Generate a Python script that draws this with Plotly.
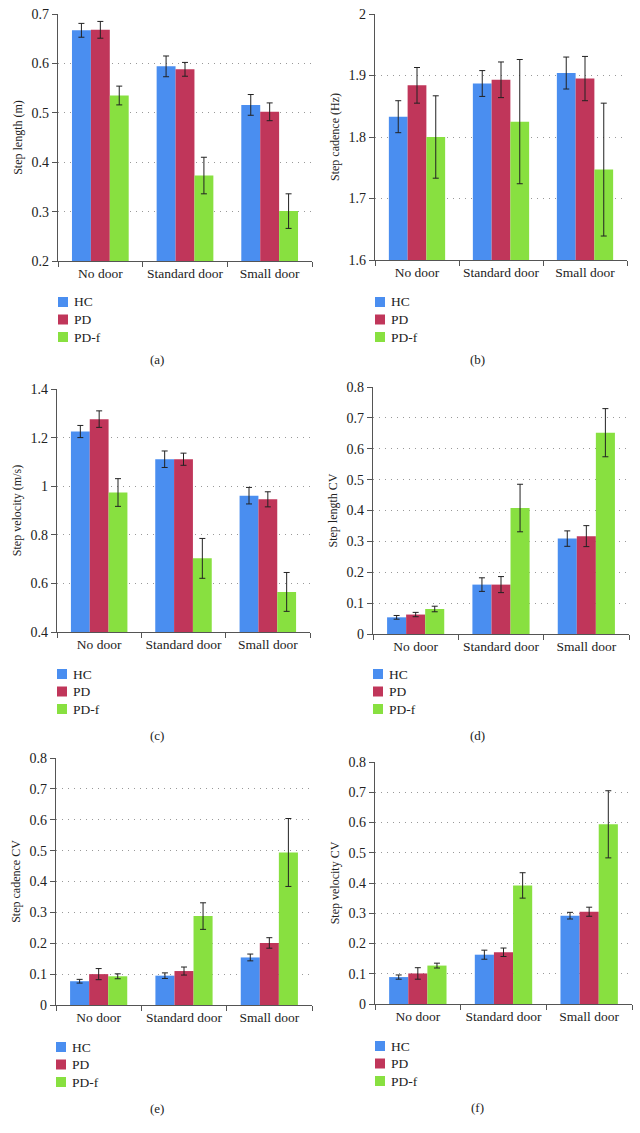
import plotly.graph_objects as go

W, H = 640, 1133
categories = ["No door", "Standard door", "Small door"]
groups = ["HC", "PD", "PD-f"]
colors = ["#4a8ef0", "#c0365a", "#88e040"]

# (a) Step length (m)
a_hc = [0.667, 0.594, 0.516]
a_hc_err = [0.014, 0.021, 0.021]
a_pd = [0.668, 0.588, 0.502]
a_pd_err = [0.017, 0.014, 0.018]
a_pdf = [0.535, 0.373, 0.301]
a_pdf_err = [0.019, 0.037, 0.035]

# (b) Step cadence (Hz)
b_hc = [1.833, 1.887, 1.904]
b_hc_err = [0.026, 0.021, 0.026]
b_pd = [1.884, 1.893, 1.895]
b_pd_err = [0.029, 0.029, 0.036]
b_pdf = [1.800, 1.825, 1.747]
b_pdf_err = [0.067, 0.101, 0.108]

# (c) Step velocity (m/s)
c_hc = [1.225, 1.111, 0.961]
c_hc_err = [0.025, 0.034, 0.034]
c_pd = [1.276, 1.111, 0.946]
c_pd_err = [0.034, 0.025, 0.031]
c_pdf = [0.974, 0.703, 0.565]
c_pdf_err = [0.057, 0.082, 0.080]

# (d) Step length CV
d_hc = [0.054, 0.160, 0.309]
d_hc_err = [0.006, 0.022, 0.025]
d_pd = [0.063, 0.160, 0.317]
d_pd_err = [0.007, 0.026, 0.034]
d_pdf = [0.081, 0.408, 0.652]
d_pdf_err = [0.009, 0.077, 0.078]

# (e) Step cadence CV
e_hc = [0.077, 0.095, 0.154]
e_hc_err = [0.006, 0.009, 0.011]
e_pd = [0.100, 0.110, 0.201]
e_pd_err = [0.018, 0.013, 0.017]
e_pdf = [0.093, 0.288, 0.494]
e_pdf_err = [0.008, 0.043, 0.110]

# (f) Step velocity CV
f_hc = [0.089, 0.163, 0.292]
f_hc_err = [0.007, 0.015, 0.011]
f_pd = [0.101, 0.171, 0.305]
f_pd_err = [0.019, 0.014, 0.015]
f_pdf = [0.127, 0.392, 0.594]
f_pdf_err = [0.008, 0.042, 0.111]

panels = [
    dict(label="(a)", title="Step length (m)", rng=[0.2, 0.7], dtick=0.1,
         vals=[a_hc, a_pd, a_pdf], errs=[a_hc_err, a_pd_err, a_pdf_err],
         box=(58, 312, 14, 261), leg=(58, 302), cap=(157, 359)),
    dict(label="(b)", title="Step cadence (Hz)", rng=[1.6, 2.0], dtick=0.1,
         vals=[b_hc, b_pd, b_pdf], errs=[b_hc_err, b_pd_err, b_pdf_err],
         box=(375, 627, 14, 260), leg=(375, 302), cap=(477, 359)),
    dict(label="(c)", title="Step velocity (m/s)", rng=[0.4, 1.4], dtick=0.2,
         vals=[c_hc, c_pd, c_pdf], errs=[c_hc_err, c_pd_err, c_pdf_err],
         box=(57, 310, 389, 632), leg=(57, 674), cap=(157, 735)),
    dict(label="(d)", title="Step length CV", rng=[0, 0.8], dtick=0.1,
         vals=[d_hc, d_pd, d_pdf], errs=[d_hc_err, d_pd_err, d_pdf_err],
         box=(373, 629, 387, 634), leg=(373, 674), cap=(477, 735)),
    dict(label="(e)", title="Step cadence CV", rng=[0, 0.8], dtick=0.1,
         vals=[e_hc, e_pd, e_pdf], errs=[e_hc_err, e_pd_err, e_pdf_err],
         box=(56, 312, 758, 1005), leg=(56, 1047), cap=(157, 1108)),
    dict(label="(f)", title="Step velocity CV", rng=[0, 0.8], dtick=0.1,
         vals=[f_hc, f_pd, f_pdf], errs=[f_hc_err, f_pd_err, f_pdf_err],
         box=(375, 632, 762, 1004), leg=(375, 1046), cap=(477, 1107)),
]

FONT = "Liberation Serif, Times New Roman, Times, serif"
AXC = "#555555"
TXT = "#222222"
LEG_STEP = 17.5
SQ = 10

fig = go.Figure()
layout = dict(
    width=W, height=H, margin=dict(l=0, r=0, t=0, b=0, autoexpand=False),
    paper_bgcolor="white", plot_bgcolor="white",
    font=dict(family=FONT, size=13, color=TXT),
    barmode="group", bargap=0.33, bargroupgap=0.0,
    showlegend=False,
    annotations=[], shapes=[],
)

for i, p in enumerate(panels):
    n = "" if i == 0 else str(i + 1)
    xa, ya = "x" + n, "y" + n
    for g, vals, errs, col in zip(groups, p["vals"], p["errs"], colors):
        fig.add_trace(go.Bar(
            x=categories, y=vals, name=g, marker=dict(color=col, line=dict(width=0)),
            error_y=dict(type="data", array=errs, color=TXT, thickness=1, width=3),
            xaxis=xa, yaxis=ya,
        ))
    x0, x1, y0, y1 = p["box"]
    layout["xaxis" + n] = dict(
        domain=[x0 / W, x1 / W], anchor=ya, type="category",
        showline=True, linecolor=AXC, linewidth=1.2,
        ticks="outside", tickson="boundaries", ticklen=5, tickcolor=AXC,
        tickangle=0, showgrid=False, automargin=False,
        tickfont=dict(size=13.5, family=FONT, color=TXT),
    )
    layout["yaxis" + n] = dict(
        domain=[1 - y1 / H, 1 - y0 / H], anchor=xa, range=p["rng"], dtick=p["dtick"],
        tick0=p["rng"][0], automargin=False,
        showline=True, linecolor=AXC, linewidth=1.2,
        ticks="outside", ticklen=5, tickcolor=AXC,
        showgrid=True, gridcolor="#999999", gridwidth=1, griddash="1px,5px",
        zeroline=False, tickfont=dict(size=14, family=FONT, color=TXT),
        title=dict(text=p["title"], font=dict(size=12, family=FONT, color=TXT), standoff=6),
    )
    lx, ly = p["leg"]
    for k, (g, col) in enumerate(zip(groups, colors)):
        cy = ly + k * LEG_STEP
        layout["shapes"].append(dict(
            type="rect", xref="paper", yref="paper",
            x0=lx / W, x1=(lx + SQ) / W, y0=1 - (cy + SQ / 2) / H, y1=1 - (cy - SQ / 2) / H,
            fillcolor=col, line=dict(width=0),
        ))
        layout["annotations"].append(dict(
            text=g, x=(lx + SQ + 4) / W, y=1 - cy / H, xref="paper", yref="paper",
            showarrow=False, xanchor="left", yanchor="middle",
            font=dict(size=13.5, family=FONT, color=TXT),
        ))
    cx, cy = p["cap"]
    layout["annotations"].append(dict(
        text=p["label"], x=cx / W, y=1 - cy / H, xref="paper", yref="paper",
        showarrow=False, xanchor="center", yanchor="middle",
        font=dict(size=13, family=FONT, color=TXT),
    ))

fig.update_layout(**layout)
fig.write_html("out.html", config={"displayModeBar": False},
               post_script="document.body.style.margin='0';document.body.style.overflow='hidden';")
